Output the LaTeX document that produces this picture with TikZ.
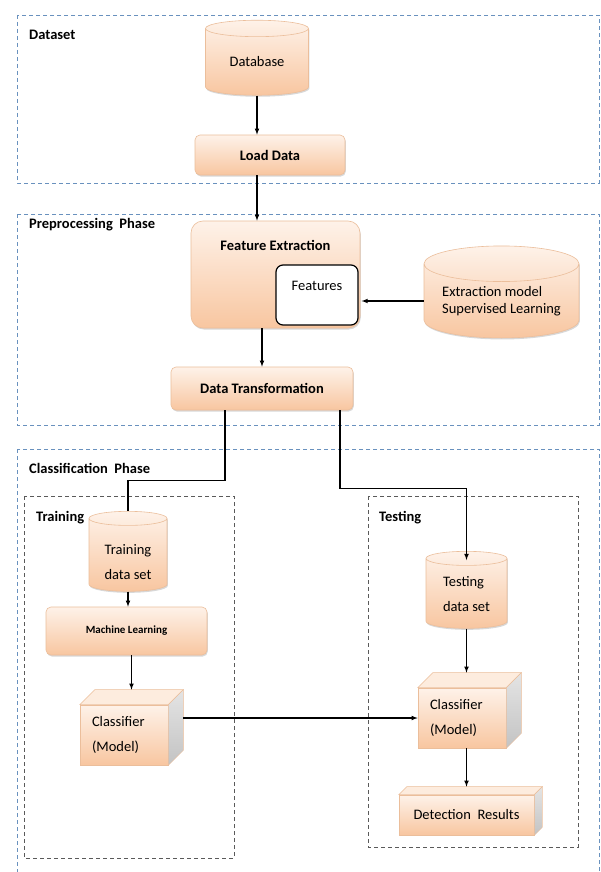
\documentclass[tikz,border=0pt]{standalone}
\usepackage{fontspec}
\setmainfont{Carlito}
\usetikzlibrary{shapes.geometric,shadows}

\definecolor{PhaseBlue}{RGB}{105,145,190}
\definecolor{StageGray}{RGB}{90,90,90}
\definecolor{PeachTop}{RGB}{254,242,233}
\definecolor{PeachBot}{RGB}{248,198,160}
\definecolor{PeachEdge}{RGB}{235,190,155}
\definecolor{CubeTop}{RGB}{253,236,222}
\definecolor{SideTop}{RGB}{228,228,228}
\definecolor{SideBot}{RGB}{195,195,195}

% top and right faces of a box node, #2 = depth
\newcommand{\CubeFaces}[2]{%
	\filldraw[fill=CubeTop,draw=PeachEdge,line width=0.5pt] (#1.north west) -- ++(#2,-#2) -- ([shift={(#2,-#2)}]#1.north east) -- (#1.north east) -- cycle;
	\shade[top color=SideTop,bottom color=SideBot,draw=PeachEdge,line width=0.5pt] (#1.north east) -- ++(#2,-#2) -- ([shift={(#2,-#2)}]#1.south east) -- (#1.south east) -- cycle;
}
% two lines lowered inside a cylinder, #1 = drop, #2 = column type
\newcommand{\LoweredText}[4]{\raisebox{-#1}[0pt][0pt]{\begin{tabular}{@{}#2@{}}#3\\[8pt]#4\end{tabular}}}

\begin{document}
\begin{tikzpicture}[x=1pt,y=-1pt,
	font=\fontsize{14.5}{17}\selectfont,
	phase/.style={draw=PhaseBlue,line width=0.8pt,dash pattern=on 4pt off 3pt},
	stage/.style={draw=StageGray,line width=0.8pt,dash pattern=on 4pt off 3pt},
	title/.style={anchor=west,inner sep=0pt,font=\fontsize{14.5}{17}\selectfont\bfseries},
	peach/.style={draw=PeachEdge,line width=0.6pt,top color=PeachTop,bottom color=PeachBot},
	shadowed/.style={drop shadow={shadow xshift=0.8pt,shadow yshift=-1.5pt,opacity=0.25,fill=black!60}},
	datastore/.style={peach,shadowed,cylinder,shape border rotate=90,aspect=0.3,inner sep=0pt},
	stepbox/.style={peach,shadowed,rectangle,rounded corners=5pt,inner sep=0pt,font=\fontsize{14.5}{17}\selectfont\bfseries},
	cubebox/.style={peach,rectangle,inner sep=0pt},
	flow/.style={-latex,line width=1.1pt},
	link/.style={line width=1.1pt}]

	\useasboundingbox (0,0) rectangle (601,872);
	\clip (0,0) rectangle (601,872);
	\fill[white] (0,0) rectangle (601,872);

	\draw[phase] (17,15) rectangle (599,183);
	\draw[phase] (17,214) rectangle (599,425);
	\draw[phase] (17,449) rectangle (599,880);
	\draw[stage] (24,496) rectangle (234,858);
	\draw[stage] (368,496) rectangle (578,847);

	\node[title] (DatasetTitle) at (29,35) {Dataset};
	\node[title] (PreprocessTitle) at (29,225) {Preprocessing\ \ Phase};
	\node[title] (ClassifyTitle) at (29,468) {Classification\ \ Phase};
	\node[title] (TrainingTitle) at (36,518) {Training};
	\node[title] (TestingTitle) at (379,518) {Testing};

	% dataset
	\node[datastore,minimum width=103pt,minimum height=75pt] (Database) at (257,62) {Database};
	\node[stepbox,minimum width=150pt,minimum height=40pt] (LoadData) at (270,155) {Load Data};

	% preprocessing
	\node[stepbox,rounded corners=12pt,minimum width=169pt,text height=25pt,text depth=74pt,inner ysep=4pt] (FeatureExtraction) at (275.5,274.5) {Feature Extraction};
	\node[draw=black,line width=1.2pt,fill=white,rounded corners=7pt,minimum width=82pt,text height=21pt,text depth=31pt,inner ysep=4pt,inner xsep=0pt] (Features) at (317,295) {Features};
	\node[datastore,align=left,minimum width=155pt,minimum height=92pt] (ExtractModel) at (501.5,301) {Extraction model\\Supervised Learning};
	\node[stepbox,minimum width=182pt,minimum height=43pt] (DataTransform) at (262,388.5) {Data Transformation};

	% training
	\node[datastore,minimum width=78pt,minimum height=80pt] (TrainSet) at (128,555) {\LoweredText{12.5pt}{c}{Training}{data set}};
	\node[stepbox,minimum width=161pt,minimum height=48pt,font=\fontsize{11}{13}\selectfont\bfseries] (MachineLearning) at (126.5,631) {Machine Learning};
	\node[cubebox,text width=64pt,align=left,inner xsep=12pt,minimum height=60pt] (TrainClassifier) at (124,735) {Classifier\\[8pt](Model)};
	\CubeFaces{TrainClassifier}{15}

	% testing
	\node[datastore,minimum width=81pt,minimum height=77pt] (TestSet) at (466.5,593.5) {\LoweredText{6pt}{l}{Testing}{data set}};
	\node[cubebox,text width=64pt,align=left,inner xsep=12pt,minimum height=60pt] (TestClassifier) at (462,718) {Classifier\\[8pt](Model)};
	\CubeFaces{TestClassifier}{15}
	\node[cubebox,minimum width=135pt,minimum height=40pt] (Detection) at (466.5,815) {Detection\ \ Results};
	\CubeFaces{Detection}{8}

	\coordinate (TrainTop) at ([shift={(7.5,-15)}]TrainClassifier.north);
	\coordinate (TestTop) at ([shift={(7.5,-15)}]TestClassifier.north);
	\coordinate (DetectTop) at ([shift={(4,-8)}]Detection.north);
	\coordinate (SplitLeft) at ([xshift=-37pt]DataTransform.south);
	\coordinate (SplitRight) at ([xshift=78pt]DataTransform.south);

	\draw[flow] (Database.south) -- (Database.south |- LoadData.north);
	\draw[flow] (LoadData.south -| Database.south) -- (FeatureExtraction.north -| Database.south);
	\draw[flow,shorten >=3pt] (ExtractModel.west) -- (ExtractModel.west -| Features.east);
	\draw[flow] (DataTransform.north |- FeatureExtraction.south) -- (DataTransform.north);
	\draw[link] (SplitLeft) -- ++(0,70) -| (TrainSet.north);
	\draw[flow] (SplitRight) -- ++(0,78) -| ([yshift=-9pt]TestSet.north);
	\draw[flow] (TrainSet.south) -- (TrainSet.south |- MachineLearning.north);
	\draw[flow] (MachineLearning.south -| TrainTop) -- (TrainTop);
	\draw[flow] ([xshift=15pt]TrainClassifier.east |- TestClassifier.west) -- (TestClassifier.west);
	\draw[flow] (TestSet.south) -- (TestSet.south |- TestTop);
	\draw[flow] (TestSet.south |- TestClassifier.south) -- (TestSet.south |- DetectTop);
\end{tikzpicture}
\end{document}
